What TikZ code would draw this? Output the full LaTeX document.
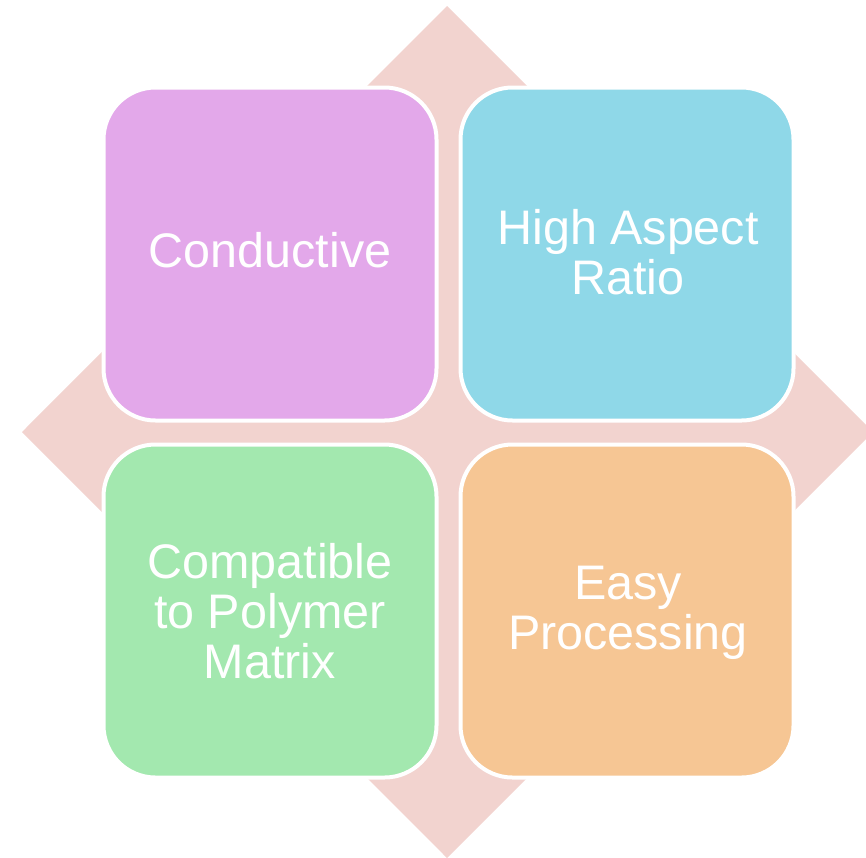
\documentclass[tikz,border=0pt]{standalone}
\usepackage{fontspec}
\setmainfont{Liberation Sans}
\begin{document}
\begin{tikzpicture}[x=1pt,y=-1pt,
  tile/.style={draw=white, line width=4pt, rounded corners=52pt,
    minimum width=333pt, minimum height=333pt, inner sep=0pt,
    fill=#1},
  label/.style={text=white, align=center, font=\fontsize{48.5}{50}\selectfont},
]
\definecolor{diamondpink}{RGB}{242,211,207}
\definecolor{tilepurple}{RGB}{227,168,234}
\definecolor{tileblue}{RGB}{143,216,232}
\definecolor{tilegreen}{RGB}{163,232,175}
\definecolor{tileorange}{RGB}{246,198,148}
\useasboundingbox (0,0) rectangle (866,857);
% background diamond
\begin{scope}
\clip (0,0) rectangle (866,857);
\fill[diamondpink] (447,6) -- (873,432) -- (447,858) -- (22,432) -- cycle;
\end{scope}
% four tiles
\node[tile=tilepurple] (tl) at (270,254) {};
\node[tile=tileblue]   (tr) at (627,254) {};
\node[tile=tilegreen]  (bl) at (270,611) {};
\node[tile=tileorange] (br) at (627,611) {};
% tile texts
\node[label] (cond)   at (270,250) {Conductive};
\node[label] (aspect) at (628,252) {High Aspect\\Ratio};
\node[label] (compat) at (270,611) {Compatible\\to Polymer\\Matrix};
\node[label] (easy)   at (628,613) {Easy\\Processing};
\end{tikzpicture}
\end{document}
